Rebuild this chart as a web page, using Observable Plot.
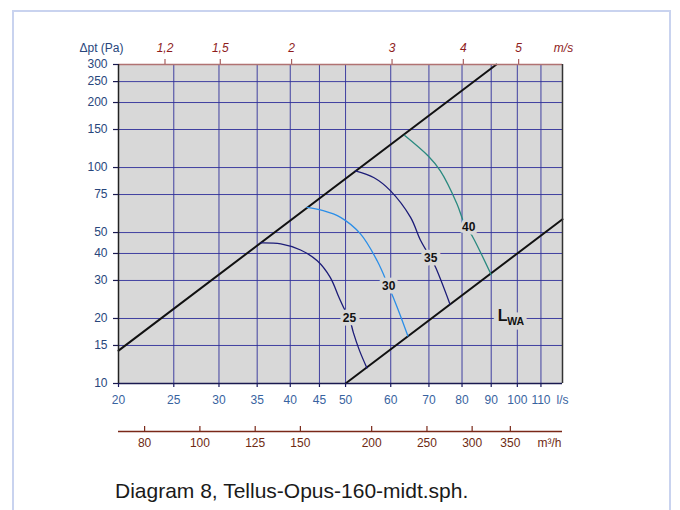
<!DOCTYPE html>
<html><head><meta charset="utf-8">
<script src="https://cdn.jsdelivr.net/npm/d3@7"></script>
<script src="https://cdn.jsdelivr.net/npm/@observablehq/plot@0.6"></script>
<style>
html,body{margin:0;padding:0;background:#fff;overflow:hidden;width:680px;height:510px;}
#frame{position:absolute;left:12px;top:10px;width:659px;height:530px;border:2px solid #c9d3ef;box-sizing:border-box;}
#chart{position:absolute;left:0;top:0;}
#caption{position:absolute;left:115px;top:480px;font-family:"Liberation Sans",Arial,sans-serif;font-size:21px;line-height:21px;color:#1a1a1a;white-space:nowrap;}
</style></head><body>
<div id="frame"></div>
<div id="chart"></div>
<div id="caption">Diagram 8, Tellus-Opus-160-midt.sph.</div>
<script>
// Axis ticks
const flowTicks = [20,25,30,35,40,45,50,60,70,80,90,100,110];   // l/s
const gridFlows = [25,30,35,40,45,50,60,70,80,90,100,110];
const pressureTicks = [10,15,20,30,40,50,75,100,150,200,250,300]; // Pa
const gridPressures = [15,20,30,40,50,75,100,150,200,250];
const velocityTicks = [1.2,1.5,2,3,4,5];                            // m/s
const m3hTicks = [80,100,125,150,200,250,300,350];                  // m³/h
const ductDiameter = 0.160;                                          // m (Ø160)

// Limit (system) lines: flow l/s, pressure Pa
const upperLineFlow = [20, 91.9];
const upperLinePa   = [14.2, 300];
const lowerLineFlow = [50, 120];
const lowerLinePa   = [10, 57.6];

// Sound power level curves (LWA dB)
const c25Flow = [35.5,38.5,41.7,44.6,47.0,48.7,49.6,50.8,51.6,52.9,54.5];
const c25Pa   = [44.8,44.3,41.5,37.0,31.0,25.0,22.5,20.0,17.2,14.2,11.8];
const c30Flow = [42.8,45.5,49.0,53.1,56.8,59.5,61.6,64.3];
const c30Pa   = [65.4,63.3,58.8,49.3,37.0,28.1,22.5,16.6];
const c35Flow = [52.0,56.1,59.9,65.0,67.7,70.5,71.9,76.2];
const c35Pa   = [96.5,89.7,78.2,58.8,45.9,38.1,34.5,23.3];
const c40Flow = [63.4,69.8,73.3,78.4,80.6,82.1,83.9,90.0];
const c40Pa   = [141,113,96.5,67.8,55.7,51.5,46.7,31.9];

const levelLabels = ["25","30","35","40"];
const labelFlow = [50.8,59.5,70.5,82.2];
const labelPa   = [20.0,28.1,38.1,53.0];
const lwaFlow = 92.4, lwaPa = 20.6;

const pts = (f, p) => f.map((q, i) => ({flow: q, pa: p[i]}));
const area = Math.PI * (ductDiameter / 2) ** 2;
const velToFlow = v => v * area * 1000;
const m3hToFlow = m => m / 3.6;

const labels = levelLabels.map((t, i) => ({t, flow: labelFlow[i], pa: labelPa[i]}));
const velData = velocityTicks.map(v => ({v, flow: velToFlow(v)}));
const m3hData = m3hTicks.map(m => ({m, flow: m3hToFlow(m)}));
const lwa = [{flow: lwaFlow, pa: lwaPa}];

const BG = "#d8d8d8";
const GRID = "#30309a";
const W = 680, H = 460, ML = 118, MR = 118, MT = 64, MB = 77;
const FW = W - ML - MR, FH = H - MT - MB;

const cYlab = "#28467c", cXlab = "#3863a0", cVel = "#8e1c1c", cM3h = "#6e2a12";
const Lopts = {x: "flow", y: "pa", text: () => "L", textAnchor: "start", fontWeight: "bold", fontSize: 16};
const WAopts = {x: "flow", y: "pa", text: () => "WA", textAnchor: "start", dx: 9.5, dy: 5.5, fontWeight: "bold", fontSize: 10.5};

const chart = Plot.plot({
  width: W, height: H,
  marginLeft: ML, marginRight: MR, marginTop: MT, marginBottom: MB,
  style: {background: "transparent", fontFamily: "Liberation Sans, Arial, sans-serif", fontSize: "12px", overflow: "visible"},
  x: {type: "log", domain: [20, 120], axis: null},
  y: {type: "log", domain: [10, 300], axis: null},
  marks: [
    Plot.frame({fill: BG, stroke: "none"}),
    Plot.gridX(gridFlows, {stroke: GRID, strokeOpacity: 0.9, strokeWidth: 1}),
    Plot.gridY(gridPressures, {stroke: GRID, strokeOpacity: 0.9, strokeWidth: 1}),
    Plot.line(pts(upperLineFlow, upperLinePa), {x: "flow", y: "pa", stroke: "#111", strokeWidth: 2}),
    Plot.line(pts(lowerLineFlow, lowerLinePa), {x: "flow", y: "pa", stroke: "#111", strokeWidth: 2}),
    Plot.line(pts(c25Flow, c25Pa), {x: "flow", y: "pa", curve: "catmull-rom", stroke: "#1c1c78", strokeWidth: 1.3}),
    Plot.line(pts(c30Flow, c30Pa), {x: "flow", y: "pa", curve: "catmull-rom", stroke: "#2a8ee8", strokeWidth: 1.3}),
    Plot.line(pts(c35Flow, c35Pa), {x: "flow", y: "pa", curve: "catmull-rom", stroke: "#1c1c78", strokeWidth: 1.3}),
    Plot.line(pts(c40Flow, c40Pa), {x: "flow", y: "pa", curve: "catmull-rom", stroke: "#2a8a80", strokeWidth: 1.3}),
    Plot.text(labels, {x: "flow", y: "pa", text: "t", fontWeight: "bold", fontSize: 12, fill: "#111", stroke: BG, strokeWidth: 7, paintOrder: "stroke"}),
    // L_WA: halos first, then glyphs
    Plot.text(lwa, {...Lopts, fill: BG, stroke: BG, strokeWidth: 10}),
    Plot.text(lwa, {...WAopts, fill: BG, stroke: BG, strokeWidth: 9}),
    Plot.text(lwa, {...Lopts, fill: "#111"}),
    Plot.text(lwa, {...WAopts, fill: "#111"}),
    // frame edges
    Plot.ruleY([300], {stroke: "#b07272", strokeWidth: 1.5}),
    Plot.ruleY([10], {stroke: "#1a1a50", strokeWidth: 1.5}),
    Plot.ruleX([120], {stroke: "#333", strokeWidth: 1.5}),
    Plot.ruleX([20], {stroke: "#222", strokeWidth: 1.5}),
    // left axis (Pa)
    Plot.tickY(pressureTicks, {y: d => d, insetRight: FW - 5, dx: -5, stroke: "#1a1a50", strokeWidth: 1.2}),
    Plot.text(pressureTicks, {y: d => d, text: d => String(d), frameAnchor: "left", textAnchor: "end", lineAnchor: "middle", dx: -11, fontSize: 12, fill: cYlab}),
    // bottom axis (l/s)
    Plot.tickX(flowTicks, {x: d => d, insetTop: FH - 4, dy: 4, stroke: "#1a1a60", strokeWidth: 1.2}),
    Plot.text(flowTicks, {x: d => d, text: d => String(d), frameAnchor: "bottom", textAnchor: "middle", lineAnchor: "middle", dy: 17, fontSize: 12, fill: cXlab}),
    // top axis (m/s)
    Plot.tickX(velData, {x: "flow", insetBottom: FH - 5, dy: -5, stroke: "#a86060", strokeWidth: 1.2}),
    Plot.text(velData, {x: "flow", text: d => String(d.v).replace(".", ","), frameAnchor: "top", textAnchor: "middle", lineAnchor: "middle", dy: -16, fontSize: 12, fontStyle: "italic", fill: cVel}),
    // m³/h axis below
    Plot.ruleY([10], {dy: 48, stroke: "#7a2818", strokeWidth: 1.5}),
    Plot.tickX(m3hData, {x: "flow", insetTop: FH - 5, dy: 48, stroke: "#7a2818", strokeWidth: 1.2}),
    Plot.text(m3hData, {x: "flow", text: d => String(d.m), frameAnchor: "bottom", textAnchor: "middle", lineAnchor: "middle", dy: 60, fontSize: 12, fill: cM3h}),
    // unit labels
    Plot.text(["Δpt (Pa)"], {text: d => d, frameAnchor: "top-left", textAnchor: "middle", lineAnchor: "middle", dx: -17, dy: -16, fontSize: 12, fill: cYlab}),
    Plot.text(["m/s"], {text: d => d, frameAnchor: "top-right", textAnchor: "middle", lineAnchor: "middle", dx: 1, dy: -16, fontSize: 12, fontStyle: "italic", fill: cVel}),
    Plot.text(["l/s"], {text: d => d, frameAnchor: "bottom-right", textAnchor: "middle", lineAnchor: "middle", dx: 0, dy: 17, fontSize: 12, fill: cXlab}),
    Plot.text(["m³/h"], {text: d => d, frameAnchor: "bottom-right", textAnchor: "middle", lineAnchor: "middle", dx: -13, dy: 60, fontSize: 12, fill: cM3h})
  ]
});
document.getElementById("chart").appendChild(chart);
</script>
</body></html>
